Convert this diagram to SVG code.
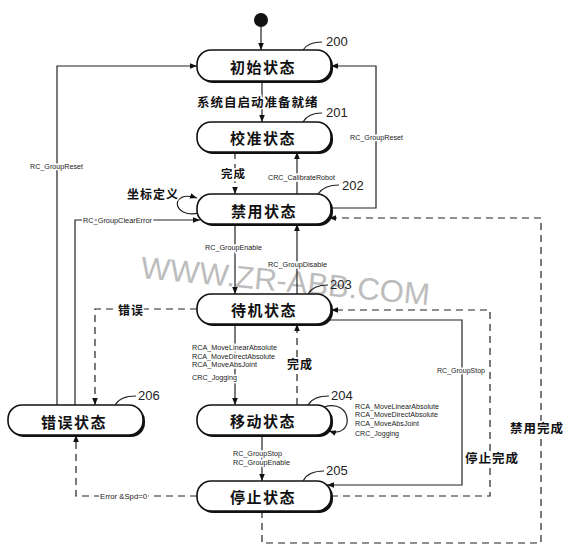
<svg xmlns="http://www.w3.org/2000/svg" width="572" height="555" viewBox="0 0 572 555">
<style>
.sh{fill:#111}
.box{fill:#fff;stroke:#111;stroke-width:1.6}
.nl{font-family:"Noto Sans CJK SC",sans-serif;font-size:15px;font-weight:bold;letter-spacing:1.5px;text-anchor:middle;dominant-baseline:central;fill:#111}
.num{font-family:"Liberation Sans",sans-serif;font-size:13px;dominant-baseline:central;fill:#222}
.lead{fill:none;stroke:#222;stroke-width:1.2}
.en{font-family:"Liberation Sans",sans-serif;font-size:8px;dominant-baseline:central;fill:#222;stroke:#fff;stroke-width:3;paint-order:stroke}
.cn{font-family:"Noto Sans CJK SC",sans-serif;font-size:12px;font-weight:bold;letter-spacing:1px;dominant-baseline:central;fill:#111;stroke:#fff;stroke-width:3;paint-order:stroke}
.ln{fill:none;stroke:#222;stroke-width:1.2}
.dash{stroke-dasharray:7 5}
.wm{font-family:"Liberation Sans",sans-serif;font-size:31px;fill:#bdbdbd}
</style>
<defs>
<marker id="ah" viewBox="0 0 10 10" refX="10" refY="5" markerWidth="7" markerHeight="7" orient="auto" markerUnits="userSpaceOnUse">
<path d="M0,1 L10,5 L0,9 z" fill="#111"/>
</marker>
</defs>
<rect width="572" height="555" fill="#fff"/>
<text class="wm" x="140" y="278" textLength="290" lengthAdjust="spacingAndGlyphs" transform="rotate(5.4 140 278)">WWW.ZR-ABB.COM</text>

<g id="connectors">
<circle cx="261" cy="20" r="7" fill="#111"/>
<path class="ln" d="M261 27 V50" marker-end="url(#ah)"/>
<path class="ln" d="M262 81 V122" marker-end="url(#ah)"/>
<path class="ln dash" d="M235 152 V194" marker-end="url(#ah)"/>
<path class="ln" d="M297 194 V152" marker-end="url(#ah)"/>
<path class="ln" d="M331 208 H376 V66 H331" marker-end="url(#ah)"/>
<path class="ln" d="M57 405 V66 H197" marker-end="url(#ah)"/>
<path class="ln" d="M75 405 V220 H200" marker-end="url(#ah)"/>
<path class="ln" d="M199 213 C172 219 169 189 197 198" marker-end="url(#ah)"/>
<path class="ln" d="M235 224 V294" marker-end="url(#ah)"/>
<path class="ln" d="M297 294 V224" marker-end="url(#ah)"/>
<path class="ln dash" d="M262 511 V543 H541 V218 H329" marker-end="url(#ah)"/>
<path class="ln dash" d="M331 496 H490 V310 H331" marker-end="url(#ah)"/>
<path class="ln" d="M326 320 H462 V485 H327" marker-end="url(#ah)"/>
<path class="ln dash" d="M197 309 H95 V405" marker-end="url(#ah)"/>
<path class="ln dash" d="M197 496 H76 V435" marker-end="url(#ah)"/>
<path class="ln" d="M235 324 V405" marker-end="url(#ah)"/>
<path class="ln dash" d="M297 405 V324" marker-end="url(#ah)"/>
<path class="ln" d="M324 407 C353 398 355 439 329 431" marker-end="url(#ah)"/>
<path class="ln" d="M262 435 V481" marker-end="url(#ah)"/>

<text class="cn" x="197" y="101" style="font-size:12.5px">系统自启动准备就绪</text>
<text class="cn" x="221" y="173" style="font-size:11.5px">完成</text>
<text class="cn" x="127" y="193">坐标定义</text>
<text class="cn" x="118" y="309">错误</text>
<text class="cn" x="287" y="363">完成</text>
<text class="cn" x="465" y="457" style="font-size:12.5px">停止完成</text>
<text class="cn" x="510" y="427" style="font-size:12.5px">禁用完成</text>

<text class="en" x="30" y="166" textLength="53" lengthAdjust="spacingAndGlyphs">RC_GroupReset</text>
<text class="en" x="350" y="137" textLength="53" lengthAdjust="spacingAndGlyphs">RC_GroupReset</text>
<text class="en" x="268" y="177" textLength="67" lengthAdjust="spacingAndGlyphs" style="font-size:7.5px">CRC_CalibrateRobot</text>
<text class="en" x="83" y="220" textLength="69" lengthAdjust="spacingAndGlyphs">RC_GroupClearError</text>
<text class="en" x="205" y="247" textLength="57" lengthAdjust="spacingAndGlyphs">RC_GroupEnable</text>
<text class="en" x="268" y="264" textLength="59" lengthAdjust="spacingAndGlyphs">RC_GroupDisable</text>
<text class="en" x="192" y="347" textLength="85" lengthAdjust="spacingAndGlyphs">RCA_MoveLinearAbsolute</text>
<text class="en" x="192" y="356" textLength="83" lengthAdjust="spacingAndGlyphs">RCA_MoveDirectAbsolute</text>
<text class="en" x="192" y="364.5" textLength="65" lengthAdjust="spacingAndGlyphs">RCA_MoveAbsJoint</text>
<text class="en" x="192" y="377" textLength="45" lengthAdjust="spacingAndGlyphs">CRC_Jogging</text>
<text class="en" x="355" y="406" textLength="84" lengthAdjust="spacingAndGlyphs">RCA_MoveLinearAbsolute</text>
<text class="en" x="355" y="414.5" textLength="83" lengthAdjust="spacingAndGlyphs">RCA_MoveDirectAbsolute</text>
<text class="en" x="355" y="423.5" textLength="64" lengthAdjust="spacingAndGlyphs">RCA_MoveAbsJoint</text>
<text class="en" x="355" y="433.5" textLength="44" lengthAdjust="spacingAndGlyphs">CRC_Jogging</text>
<text class="en" x="233" y="453" textLength="49" lengthAdjust="spacingAndGlyphs">RC_GroupStop</text>
<text class="en" x="233" y="462" textLength="57" lengthAdjust="spacingAndGlyphs">RC_GroupEnable</text>
<text class="en" x="437" y="370" textLength="48" lengthAdjust="spacingAndGlyphs">RC_GroupStop</text>
<text class="en" x="100" y="496" textLength="47" lengthAdjust="spacingAndGlyphs">Error &amp;Spd=0</text>
</g>

<g id="n200">
<rect class="sh" x="199" y="52" width="134" height="31" rx="14"/>
<rect class="box" x="197" y="50" width="134" height="31" rx="14"/>
<text class="nl" x="263" y="66">初始状态</text>
<path class="lead" d="M303 50 Q308 42 322 42"/>
<text class="num" x="326" y="41">200</text>
</g>
<g id="n201">
<rect class="sh" x="199" y="124" width="134" height="30" rx="14"/>
<rect class="box" x="197" y="122" width="134" height="30" rx="14"/>
<text class="nl" x="263" y="137">校准状态</text>
<path class="lead" d="M303 122 Q308 113 322 113"/>
<text class="num" x="326" y="112">201</text>
</g>
<g id="n202">
<rect class="sh" x="199" y="196" width="134" height="30" rx="14"/>
<rect class="box" x="197" y="194" width="134" height="30" rx="14"/>
<text class="nl" x="264" y="210">禁用状态</text>
<path class="lead" d="M318 194 Q324 185 339 185"/>
<text class="num" x="342" y="185">202</text>
</g>
<g id="n203">
<rect class="sh" x="199" y="296" width="134" height="30" rx="14"/>
<rect class="box" x="197" y="294" width="134" height="30" rx="14"/>
<text class="nl" x="264" y="309">待机状态</text>
<path class="lead" d="M308 294 Q313 285 328 285"/>
<text class="num" x="330" y="284">203</text>
</g>
<g id="n204">
<rect class="sh" x="199" y="407" width="134" height="30" rx="14"/>
<rect class="box" x="197" y="405" width="134" height="30" rx="14"/>
<text class="nl" x="263" y="420">移动状态</text>
<path class="lead" d="M308 405 Q313 396 329 396"/>
<text class="num" x="331" y="395">204</text>
</g>
<g id="n205">
<rect class="sh" x="199" y="483" width="134" height="30" rx="14"/>
<rect class="box" x="197" y="481" width="134" height="30" rx="14"/>
<text class="nl" x="263" y="496">停止状态</text>
<path class="lead" d="M303 481 Q308 471 324 471"/>
<text class="num" x="326" y="470">205</text>
</g>
<g id="n206">
<rect class="sh" x="10" y="407" width="135" height="30" rx="14"/>
<rect class="box" x="8" y="405" width="135" height="30" rx="14"/>
<text class="nl" x="74" y="421">错误状态</text>
<path class="lead" d="M115 405 Q120 396 136 396"/>
<text class="num" x="138" y="395">206</text>
</g>
</svg>
